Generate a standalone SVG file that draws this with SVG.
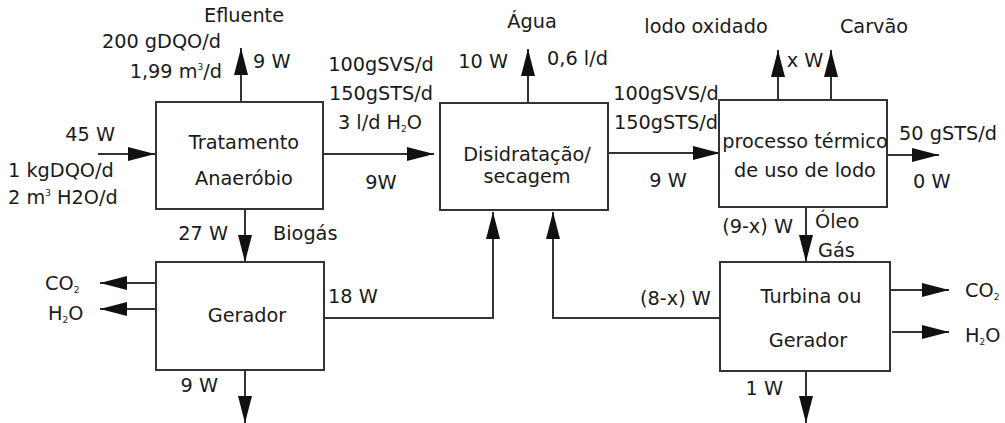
<svg xmlns="http://www.w3.org/2000/svg" width="1005" height="423" viewBox="0 0 1005 423">
<defs>
<style>
.box{fill:#fff;stroke:#333;stroke-width:2}
.ln{fill:none;stroke:#333;stroke-width:2;marker-end:url(#ah)}
text{font-family:"DejaVu Sans","Liberation Sans",sans-serif;font-size:19.3px;fill:#1a1a1a}
.m{text-anchor:middle}
.e{text-anchor:end}
.sub{font-size:9px}
</style>
<marker id="ah" markerUnits="userSpaceOnUse" markerWidth="28" markerHeight="15" refX="27" refY="7" orient="auto" viewBox="0 0 28 15">
<path d="M0,0 L27,7 L0,14 z" fill="#111"/>
</marker>
</defs>
<rect width="1005" height="423" fill="#fff"/>
<g id="connectors">
<line class="ln" x1="98" y1="154" x2="155" y2="154"/>
<line class="ln" x1="241" y1="102" x2="241" y2="48"/>
<line class="ln" x1="323" y1="154" x2="434" y2="154"/>
<line class="ln" x1="528" y1="103" x2="528" y2="49"/>
<line class="ln" x1="608" y1="153" x2="720" y2="153"/>
<line class="ln" x1="778" y1="100" x2="778" y2="50"/>
<line class="ln" x1="831" y1="100" x2="831" y2="50"/>
<line class="ln" x1="887" y1="155" x2="939" y2="155"/>
<line class="ln" x1="245" y1="209" x2="245" y2="262"/>
<line class="ln" x1="157" y1="283" x2="100" y2="283"/>
<line class="ln" x1="157" y1="309" x2="100" y2="309"/>
<line class="ln" x1="245" y1="370" x2="245" y2="423"/>
<polyline class="ln" points="324,318 493,318 493,212"/>
<polyline class="ln" points="721,318 553,318 553,212"/>
<line class="ln" x1="806" y1="207" x2="806" y2="262"/>
<line class="ln" x1="890" y1="290" x2="949" y2="290"/>
<line class="ln" x1="892" y1="332" x2="949" y2="332"/>
<line class="ln" x1="806" y1="371" x2="806" y2="423"/>
</g>
<g id="n-tratamento">
<rect class="box" x="156" y="102" width="167" height="107"/>
<text class="m" x="244" y="149">Tratamento</text>
<text class="m" x="244" y="185">Anaeróbio</text>
</g>
<g id="n-disidratacao">
<rect class="box" x="440" y="103" width="168" height="107"/>
<text class="m" x="527" y="161">Disidratação/</text>
<text class="m" x="527" y="183">secagem</text>
</g>
<g id="n-termico">
<rect class="box" x="719" y="100" width="168" height="107"/>
<text class="m" x="805" y="148">processo térmico</text>
<text class="m" x="805" y="177">de uso de lodo</text>
</g>
<g id="n-gerador">
<rect class="box" x="156" y="262" width="168" height="108"/>
<text class="m" x="247" y="322">Gerador</text>
</g>
<g id="n-turbina">
<rect class="box" x="720" y="262" width="170" height="109"/>
<text class="m" x="811" y="303">Turbina ou</text>
<text class="m" x="808" y="347">Gerador</text>
</g>
<g id="labels">
<text class="m" x="244" y="22">Efluente</text>
<text class="e" x="221" y="48">200 gDQO/d</text>
<text class="e" x="222" y="78">1,99 m<tspan class="sub" dy="-8">3</tspan><tspan dy="8">/d</tspan></text>
<text x="253" y="68">9 W</text>
<text class="e" x="115" y="141">45 W</text>
<text x="8" y="177">1 kgDQO/d</text>
<text x="8" y="204">2 m<tspan class="sub" dy="-8">3</tspan><tspan dy="8"> H2O/d</tspan></text>
<text class="m" x="381" y="71">100gSVS/d</text>
<text class="m" x="381" y="100">150gSTS/d</text>
<text class="m" x="380" y="129">3 l/d H<tspan class="sub" dy="3">2</tspan><tspan dy="-3">O</tspan></text>
<text class="m" x="381" y="189">9W</text>
<text class="m" x="532" y="28">Água</text>
<text class="e" x="508" y="68">10 W</text>
<text x="547" y="65">0,6 l/d</text>
<text class="m" x="666" y="100">100gSVS/d</text>
<text class="m" x="666" y="129">150gSTS/d</text>
<text class="m" x="668" y="187">9 W</text>
<text class="m" x="706" y="33">lodo oxidado</text>
<text class="m" x="874" y="33">Carvão</text>
<text class="m" x="805" y="67">x W</text>
<text x="899" y="140">50 gSTS/d</text>
<text x="913" y="188">0 W</text>
<text class="e" x="228" y="240">27 W</text>
<text x="273" y="240">Biogás</text>
<text x="45" y="290">CO<tspan class="sub" dy="3">2</tspan></text>
<text x="48" y="320">H<tspan class="sub" dy="3">2</tspan><tspan dy="-3">O</tspan></text>
<text class="e" x="218" y="392">9 W</text>
<text x="328" y="303">18 W</text>
<text x="640" y="305">(8-x) W</text>
<text class="e" x="793" y="233">(9-x) W</text>
<text x="815" y="228">Óleo</text>
<text x="818" y="257">Gás</text>
<text x="965" y="297">CO<tspan class="sub" dy="3">2</tspan></text>
<text x="965" y="342">H<tspan class="sub" dy="3">2</tspan><tspan dy="-3">O</tspan></text>
<text class="e" x="783" y="395">1 W</text>
</g>
</svg>
